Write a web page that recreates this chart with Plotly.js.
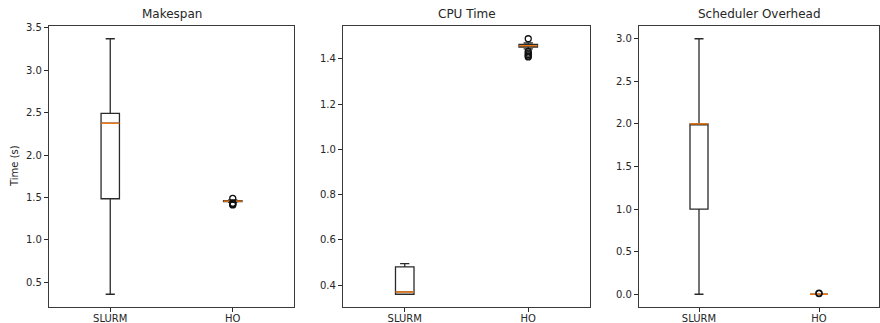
<!DOCTYPE html>
<html>
<head>
<meta charset="utf-8">
<script src="https://cdn.plot.ly/plotly-3.0.1.min.js"></script>
<style>html,body{margin:0;padding:0;background:#fff;}</style>
</head>
<body>
<div id="chart" style="width:880px;height:323px;"></div>
<script>
// Categories and their positions on each x axis
const groups = ['SLURM', 'HO'];
const positions = [1, 2];
const panelTitles = ['Makespan', 'CPU Time', 'Scheduler Overhead'];

// Makespan (s): box statistics per group
const makespanLow = [0.36, 1.443];
const makespanQ1 = [1.485, 1.451];
const makespanMedian = [2.375, 1.457];
const makespanQ3 = [2.49, 1.463];
const makespanHigh = [3.37, 1.47];
const makespanFliers = [[], [1.49, 1.432, 1.425, 1.418, 1.412]];

// CPU time (s)
const cpuLow = [0.36, 1.443];
const cpuQ1 = [0.36, 1.451];
const cpuMedian = [0.37, 1.457];
const cpuQ3 = [0.481, 1.463];
const cpuHigh = [0.495, 1.47];
const cpuFliers = [[], [1.488, 1.432, 1.425, 1.418, 1.412, 1.408]];

// Scheduler overhead (s)
const overheadLow = [0.0, 0.0];
const overheadQ1 = [1.0, 0.0];
const overheadMedian = [2.0, 0.0];
const overheadQ3 = [2.0, 0.0];
const overheadHigh = [3.0, 0.0];
const overheadFliers = [[], [0.008, 0.012]];

const panels = [
  {low: makespanLow, q1: makespanQ1, med: makespanMedian, q3: makespanQ3, high: makespanHigh, fliers: makespanFliers, dtick: 0.5},
  {low: cpuLow, q1: cpuQ1, med: cpuMedian, q3: cpuQ3, high: cpuHigh, fliers: cpuFliers, dtick: 0.2},
  {low: overheadLow, q1: overheadQ1, med: overheadMedian, q3: overheadQ3, high: overheadHigh, fliers: overheadFliers, dtick: 0.5}
];

const boxWidth = 0.15;
const W = 880, H = 323;
const xDomainsPx = [[49, 294], [343, 590], [639, 879]];
const yTopPx = 26, yBottomPx = 307;
const yDomain = [(H - yBottomPx) / H, (H - yTopPx) / H];

const tickFont = {family: 'DejaVu Sans, sans-serif', size: 10, color: '#262626'};
const titleFont = {family: 'DejaVu Sans, sans-serif', size: 12, color: '#262626'};
const ink = '#2a2a2a';

const traces = [];
const layout = {
  width: W, height: H,
  margin: {l: 0, r: 0, t: 0, b: 0},
  paper_bgcolor: '#fff', plot_bgcolor: '#fff',
  showlegend: false,
  boxmode: 'overlay',
  annotations: []
};

panels.forEach((p, i) => {
  const n = i === 0 ? '' : String(i + 1);
  const xa = 'x' + n, ya = 'y' + n;

  // box, whiskers and caps
  traces.push({
    type: 'box', xaxis: xa, yaxis: ya,
    x: positions,
    q1: p.q1, median: p.med, q3: p.q3,
    lowerfence: p.low, upperfence: p.high,
    width: boxWidth, whiskerwidth: 0.5,
    boxpoints: false,
    fillcolor: 'rgba(0,0,0,0)',
    line: {color: ink, width: 1.3},
    hoverinfo: 'skip'
  });

  // median lines drawn in orange on top of each box
  const mx = [], my = [];
  positions.forEach((pos, k) => {
    mx.push(pos - boxWidth / 2, pos + boxWidth / 2, null);
    my.push(p.med[k], p.med[k], null);
  });
  traces.push({
    type: 'scatter', mode: 'lines', xaxis: xa, yaxis: ya,
    x: mx, y: my, line: {color: '#ff7f0e', width: 1.3}, hoverinfo: 'skip'
  });

  // outliers
  const fx = [], fy = [];
  positions.forEach((pos, k) => {
    p.fliers[k].forEach(v => { fx.push(pos); fy.push(v); });
  });
  traces.push({
    type: 'scatter', mode: 'markers', xaxis: xa, yaxis: ya,
    x: fx, y: fy,
    marker: {symbol: 'circle-open', size: 6, color: '#111', line: {width: 1.3, color: '#111'}},
    hoverinfo: 'skip'
  });

  // y range with a 5% margin around all plotted values
  const all = [].concat(p.low, p.high, ...p.fliers);
  const lo = Math.min(...all), hi = Math.max(...all);
  const pad = 0.05 * (hi - lo);

  const dom = xDomainsPx[i];
  layout['xaxis' + n] = {
    domain: [dom[0] / W, dom[1] / W],
    anchor: ya,
    range: [0.5, 2.5],
    tickvals: positions, ticktext: groups,
    ticks: 'outside', ticklen: 4, tickwidth: 1, tickcolor: ink,
    ticklabelstandoff: -2,
    showgrid: false, zeroline: false,
    showline: true, mirror: true, linecolor: '#3a3a3a', linewidth: 1.2,
    tickfont: tickFont, fixedrange: true
  };
  layout['yaxis' + n] = {
    domain: yDomain,
    anchor: xa,
    range: [lo - pad, hi + pad],
    dtick: p.dtick, tick0: 0, tickformat: '.1f',
    ticks: 'outside', ticklen: 4, tickwidth: 1, tickcolor: ink,
    showgrid: false, zeroline: false,
    showline: true, mirror: true, linecolor: '#3a3a3a', linewidth: 1.2,
    tickfont: tickFont, fixedrange: true
  };

  layout.annotations.push({
    text: panelTitles[i], xref: 'paper', yref: 'paper',
    x: (dom[0] + dom[1]) / 2 / W, y: 1 - 14 / H,
    xanchor: 'center', yanchor: 'middle', showarrow: false, font: titleFont
  });
});

layout.annotations.push({
  text: 'Time (s)', xref: 'paper', yref: 'paper',
  x: 14 / W, y: 1 - 166 / H, textangle: -90,
  xanchor: 'center', yanchor: 'middle', showarrow: false, font: tickFont
});

Plotly.newPlot('chart', traces, layout, {displayModeBar: false, staticPlot: true});
</script>
</body>
</html>
